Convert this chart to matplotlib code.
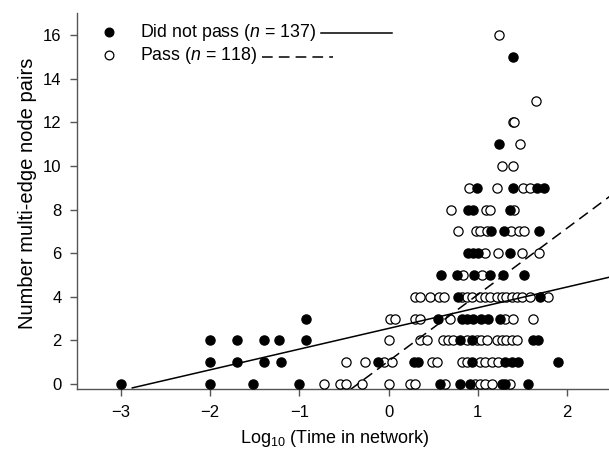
import matplotlib
matplotlib.use("Agg")
import matplotlib.pyplot as plt
from matplotlib.lines import Line2D
import numpy as np

plt.rcParams['font.family'] = ['Liberation Sans', 'DejaVu Sans']
plt.rcParams['mathtext.fontset'] = 'custom'
plt.rcParams['mathtext.rm'] = 'Liberation Sans'
plt.rcParams['mathtext.it'] = 'Liberation Sans:italic'

# did not pass (filled markers), read row by row
fail_x = [1.39,
          1.24,
          0.99, 1.40, 1.66, 1.74,
          0.89, 0.95, 1.36,
          1.15, 1.29, 1.69,
          0.89, 0.95, 1.00, 1.36,
          0.59, 0.77, 0.96, 1.14, 1.28, 1.52,
          0.78, 1.70,
          -0.92, 0.55, 0.82, 0.88, 0.95, 1.04, 1.12, 1.25,
          -2.0, -1.70, -1.40, -1.23, -0.92, 0.80, 0.93, 1.62, 1.68,
          -2.0, -1.70, -1.40, -1.20, -0.12, 0.28, 0.33, 0.93, 1.30, 1.38, 1.45, 1.90,
          -3.0, -2.0, -1.52, -1.0, 0.58, 0.80, 0.91, 1.27, 1.31, 1.56]
fail_y = [15,
          11,
          9, 9, 9, 9,
          8, 8, 8,
          7, 7, 7,
          6, 6, 6, 6,
          5, 5, 5, 5, 5, 5,
          4, 4,
          3, 3, 3, 3, 3, 3, 3, 3,
          2, 2, 2, 2, 2, 2, 2, 2, 2,
          1, 1, 1, 1, 1, 1, 1, 1, 1, 1, 1, 1,
          0, 0, 0, 0, 0, 0, 0, 0, 0, 0]

# pass (open markers)
pass_x = [1.24,
          1.65,
          1.39, 1.41,
          1.47,
          1.27, 1.39,
          0.90, 1.21, 1.51, 1.58,
          0.70, 1.09, 1.14, 1.41,
          0.78, 0.98, 1.03, 1.10, 1.37, 1.46, 1.52,
          1.08, 1.23, 1.49, 1.69,
          0.83, 1.05,
          0.30, 0.35, 0.46, 0.56, 0.62, 0.82, 0.88, 0.94, 1.03, 1.08, 1.14,
          1.21, 1.27, 1.32, 1.38, 1.44, 1.49, 1.58, 1.79,
          0.02, 0.07, 0.30, 0.35, 0.69, 1.30, 1.40, 1.62,
          0.0, 0.35, 0.43, 0.61, 0.67, 0.72, 0.88, 0.99, 1.04, 1.10, 1.21, 1.27,
          1.32, 1.38, 1.44,
          -0.48, -0.26, -0.05, 0.04, 0.49, 0.54, 0.82, 0.88, 1.03, 1.08, 1.16, 1.23,
          -0.72, -0.54, -0.48, -0.30, 0.0, 0.24, 0.30, 0.63, 0.97, 1.03, 1.08, 1.16, 1.36]
pass_y = [16,
          13,
          12, 12,
          11,
          10, 10,
          9, 9, 9, 9,
          8, 8, 8, 8,
          7, 7, 7, 7, 7, 7, 7,
          6, 6, 6, 6,
          5, 5,
          4, 4, 4, 4, 4, 4, 4, 4, 4, 4, 4,
          4, 4, 4, 4, 4, 4, 4, 4,
          3, 3, 3, 3, 3, 3, 3, 3,
          2, 2, 2, 2, 2, 2, 2, 2, 2, 2, 2, 2,
          2, 2, 2,
          1, 1, 1, 1, 1, 1, 1, 1, 1, 1, 1, 1,
          0, 0, 0, 0, 0, 0, 0, 0, 0, 0, 0, 0, 0]

# fitted lines: intercept, slope, x start
fail_fit = (2.55, 0.95, -2.87)
pass_fit = (1.05, 3.05, -0.43)

labels = [r'Did not pass ($n$ = 137)', r'Pass ($n$ = 118)']

fig = plt.figure(figsize=(6.09, 4.55), dpi=100)
ax = fig.add_axes([0.1264, 0.144, 0.8736, 0.8275])

hp = ax.scatter(pass_x, pass_y, s=44, facecolor='white', edgecolor='black', linewidth=0.9, zorder=3)
hf = ax.scatter(fail_x, fail_y, s=44, facecolor='black', edgecolor='black', linewidth=0.9, zorder=4)

xr = 2.6
for (b0, b1, x0), ls in [(fail_fit, '-'), (pass_fit, (0, (7, 4)))]:
    xs = np.array([x0, xr])
    ax.plot(xs, b0 + b1 * xs, color='black', lw=1.1, linestyle=ls, zorder=5)

ax.set_xlim(-3.49, 2.47)
ax.set_ylim(-0.25, 17.02)
ax.set_xticks([-3, -2, -1, 0, 1, 2])
ax.set_xticklabels(['\u22123', '\u22122', '\u22121', '0', '1', '2'])
ax.set_yticks(range(0, 17, 2))

for s in ['top', 'right']:
    ax.spines[s].set_visible(False)
for s in ['left', 'bottom']:
    ax.spines[s].set_color('#555555')
    ax.spines[s].set_linewidth(1.0)
ax.tick_params(direction='out', length=5, width=1, color='#555555', labelsize=12, pad=6)

ax.set_xlabel(r'Log$_{10}$ (Time in network)', fontsize=13)
ax.xaxis.set_label_coords(0.485, -0.102)
ax.set_ylabel('Number multi-edge node pairs', fontsize=14.5)
ax.yaxis.set_label_coords(-0.075, 0.52)

leg = ax.legend([hf, hp], labels, loc='upper left', bbox_to_anchor=(0.013, 0.995),
                frameon=False, fontsize=12.8, handletextpad=0.75, labelspacing=0.12,
                borderaxespad=0, scatterpoints=1, markerscale=0.95)

fig.canvas.draw()
inv = ax.transAxes.inverted()
for txt, ls in zip(leg.get_texts(), ['-', (0, (7, 4))]):
    bb = txt.get_window_extent()
    yc = (bb.y0 + bb.y1) / 2 - 1
    p0 = inv.transform((bb.x1 + 5, yc))
    p1 = inv.transform((bb.x1 + 76, yc))
    ax.add_line(Line2D([p0[0], p1[0]], [p0[1], p1[1]], transform=ax.transAxes,
                       color='black', lw=1.1, linestyle=ls, clip_on=False))

fig.savefig('out.png', dpi=100)
